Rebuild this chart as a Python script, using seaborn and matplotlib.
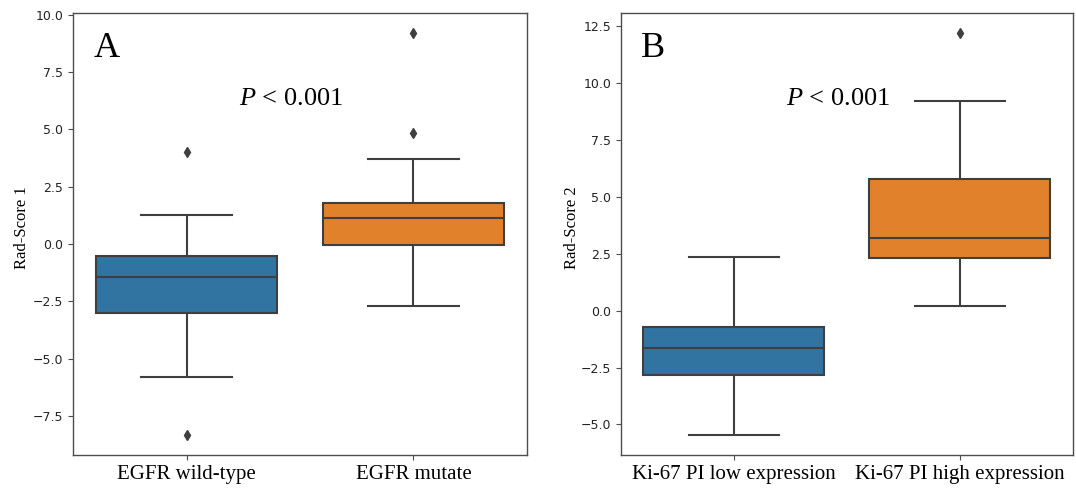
import matplotlib
matplotlib.use("Agg")
import matplotlib.pyplot as plt
import seaborn as sns
import pandas as pd

# Panel A: EGFR status
groups_a = ["EGFR wild-type", "EGFR mutate"]
whisker_low_a = [-5.79, -2.70]
q1_a = [-3.02, -0.06]
median_a = [-1.42, 1.12]
q3_a = [-0.52, 1.80]
whisker_high_a = [1.26, 3.69]
outliers_a = [[-8.33, 4.01], [4.83, 9.19]]

# Panel B: Ki-67 proliferation index
groups_b = ["Ki-67 PI low expression", "Ki-67 PI high expression"]
whisker_low_b = [-5.46, 0.21]
q1_b = [-2.83, 2.30]
median_b = [-1.65, 3.18]
q3_b = [-0.73, 5.77]
whisker_high_b = [2.34, 9.21]
outliers_b = [[], [12.19]]

p_text = "$P$ < 0.001"
panel_letters = ["A", "B"]
y_labels = ["Rad-Score 1", "Rad-Score 2"]


def group_sample(lo, q1, med, q3, hi, outs):
    """Values whose quartiles, whisker ends and fliers equal the given summary."""
    return [lo] + [q1] * 5 + [med] * 5 + [q3] * 5 + [hi] + list(outs)


def build_frame(groups, lo, q1, med, q3, hi, outs):
    rows = []
    for i, g in enumerate(groups):
        for v in group_sample(lo[i], q1[i], med[i], q3[i], hi[i], outs[i]):
            rows.append({"group": g, "score": v})
    return pd.DataFrame(rows)


df_a = build_frame(groups_a, whisker_low_a, q1_a, median_a, q3_a, whisker_high_a, outliers_a)
df_b = build_frame(groups_b, whisker_low_b, q1_b, median_b, q3_b, whisker_high_b, outliers_b)

plt.rcParams["mathtext.fontset"] = "custom"
plt.rcParams["mathtext.it"] = "Liberation Serif:italic"
plt.rcParams["mathtext.rm"] = "Liberation Serif"

fig = plt.figure(figsize=(10.76, 4.94), dpi=100)
ax_a = fig.add_axes([0.068, 0.079, 0.4217, 0.894])
ax_b = fig.add_axes([0.577, 0.079, 0.420, 0.894])

line_gray = "#3f3f3f"
frame_gray = "#4d4d4d"
flier = dict(marker="d", markerfacecolor=line_gray, markeredgecolor=line_gray, markersize=5)

for ax, df, groups, letter, ylab, lab_x in [
    (ax_a, df_a, groups_a, panel_letters[0], y_labels[0], -0.095),
    (ax_b, df_b, groups_b, panel_letters[1], y_labels[1], -0.091),
]:
    sns.boxplot(data=df, x="group", y="score", hue="group", order=groups,
                hue_order=groups, palette=sns.color_palette()[:2],
                saturation=0.75, width=0.8, linecolor=line_gray, linewidth=1.5,
                flierprops=flier, legend=False, ax=ax)
    ax.set_xlabel("")
    ax.set_ylabel(ylab, family="Liberation Serif", fontsize=12)
    ax.yaxis.set_label_coords(lab_x, 0.515)
    ax.tick_params(axis="x", labelsize=15, color=frame_gray)
    for lbl in ax.get_xticklabels():
        lbl.set_family("Liberation Serif")
    ax.tick_params(axis="y", labelsize=9, color=frame_gray, labelcolor="#222222")
    for sp in ax.spines.values():
        sp.set_color(frame_gray)
        sp.set_linewidth(1.0)
    ax.text(0.045, 0.902, letter, transform=ax.transAxes, family="Liberation Serif",
            fontsize=26, ha="left", va="baseline")
    ax.text(0.48, 0.793, p_text, transform=ax.transAxes, family="Liberation Serif",
            fontsize=19, ha="center", va="baseline")

fig.savefig("out.png", dpi=100)
